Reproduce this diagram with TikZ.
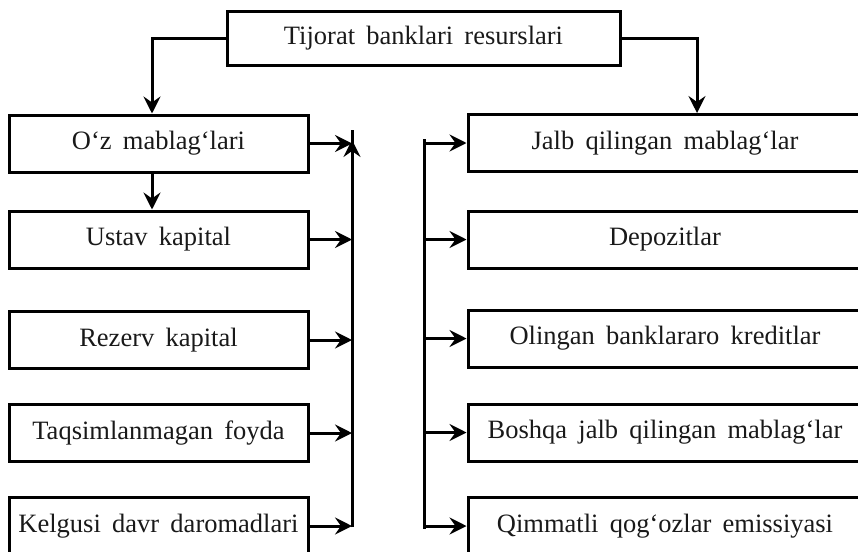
\documentclass[tikz,border=0pt]{standalone}
\usepackage{fontspec}
\setmainfont[WordSpace={1.7,1,1}]{Liberation Serif}
\usetikzlibrary{arrows.meta}
\begin{document}
\begin{tikzpicture}[x=1pt,y=-1pt,
  box/.style={draw,line width=3pt,minimum width=299pt,minimum height=57pt,inner sep=0pt,font=\fontsize{26.5}{30}\selectfont,text=black!90},
  rbox/.style={box,minimum width=394pt},
  conn/.style={line width=3pt,-{Stealth[length=17pt,width=17pt,inset=6pt]}},
  bus/.style={line width=3pt}]
\useasboundingbox (0,0) rectangle (858,551);
\clip (0,0) rectangle (858,551);
\node[box,minimum width=393pt,minimum height=53pt] (top) at (423.5,38.5) {Tijorat banklari resurslari};
\node[box] (l1) at (158.5,143.5) {O‘z mablag‘lari};
\node[box] (l2) at (158.5,239.5) {Ustav kapital};
\node[box] (l3) at (158.5,340) {Rezerv kapital};
\node[box] (l4) at (158.5,433) {Taqsimlanmagan foyda};
\node[box] (l5) at (158.5,526) {Kelgusi davr daromadlari};
\node[rbox] (r1) at (665,143) {Jalb qilingan mablag‘lar};
\node[rbox] (r2) at (665,239.5) {Depozitlar};
\node[rbox] (r3) at (665,338.5) {Olingan banklararo kreditlar};
\node[rbox] (r4) at (665,432.5) {Boshqa jalb qilingan mablag‘lar};
\node[rbox] (r5) at (665,526) {Qimmatli qog‘ozlar emissiyasi};
\coordinate (lt) at (352,140);
\coordinate (lb) at (352,527);
\coordinate (rt) at (424,140);
\coordinate (rb) at (424,527);
\draw[conn] (top.west) -| ([xshift=-6.5pt]l1.north);
\draw[conn] (top.east) -| ([xshift=32pt]r1.north);
\draw[conn] ([xshift=-6.5pt]l1.south) -- ([xshift=-6.5pt]l2.north);
\draw[bus] (lb) -- ([yshift=10pt]lt);
\draw[conn] (lb) -- (lt);
\draw[conn] (l1.east) -- (l1.east -| lt);
\draw[conn] (l2.east) -- (l2.east -| lt);
\draw[conn] (l3.east) -- (l3.east -| lt);
\draw[conn] (l4.east) -- (l4.east -| lt);
\draw[conn] (l5.east) -- (l5.east -| lt);
\draw[bus,line cap=rect] (rt) -- (rb);
\draw[conn] (r1.west -| rt) -- (r1.west);
\draw[conn] (r2.west -| rt) -- (r2.west);
\draw[conn] (r3.west -| rt) -- (r3.west);
\draw[conn] (r4.west -| rt) -- (r4.west);
\draw[conn] (r5.west -| rt) -- (r5.west);
\end{tikzpicture}
\end{document}
